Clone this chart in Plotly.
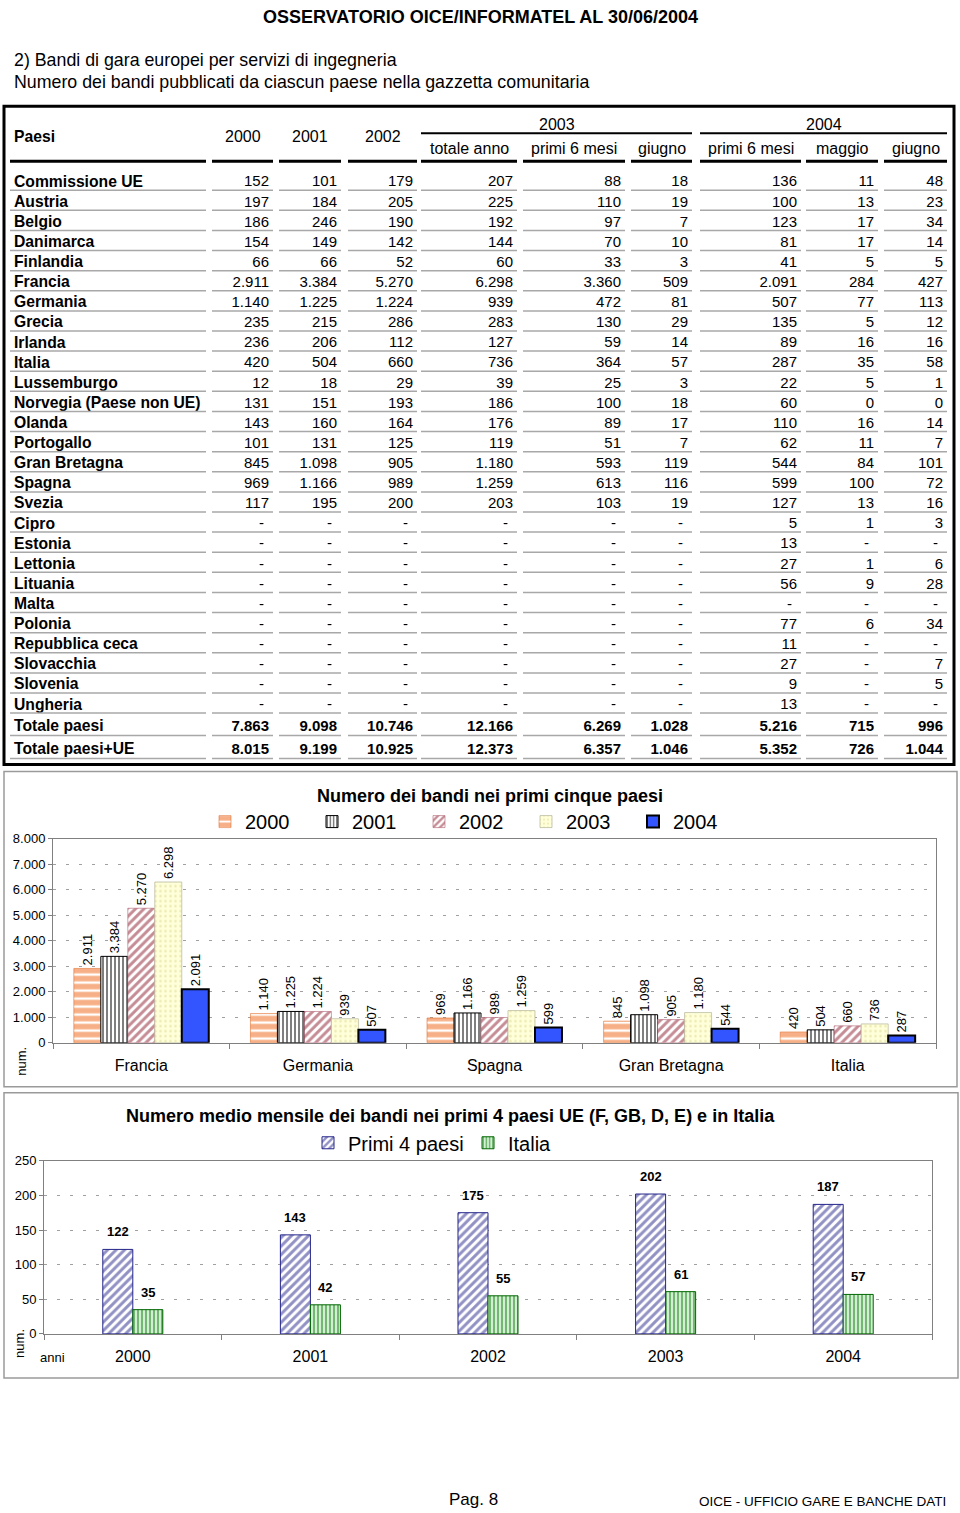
import plotly.graph_objects as go

FONT = "Liberation Sans, Arial, sans-serif"

# ---------------------------------------------------------------------------
# Tabella: bandi per paese
# ---------------------------------------------------------------------------
PAESI = [
    "Commissione UE", "Austria", "Belgio", "Danimarca", "Finlandia", "Francia",
    "Germania", "Grecia", "Irlanda", "Italia", "Lussemburgo",
    "Norvegia (Paese non UE)", "Olanda", "Portogallo", "Gran Bretagna", "Spagna",
    "Svezia", "Cipro", "Estonia", "Lettonia", "Lituania", "Malta", "Polonia",
    "Repubblica ceca", "Slovacchia", "Slovenia", "Ungheria",
    "Totale paesi", "Totale paesi+UE",
]
_ = None
ANNO_2000 = [152, 197, 186, 154, 66, 2911, 1140, 235, 236, 420, 12, 131, 143, 101, 845, 969, 117,
             _, _, _, _, _, _, _, _, _, _, 7863, 8015]
ANNO_2001 = [101, 184, 246, 149, 66, 3384, 1225, 215, 206, 504, 18, 151, 160, 131, 1098, 1166, 195,
             _, _, _, _, _, _, _, _, _, _, 9098, 9199]
ANNO_2002 = [179, 205, 190, 142, 52, 5270, 1224, 286, 112, 660, 29, 193, 164, 125, 905, 989, 200,
             _, _, _, _, _, _, _, _, _, _, 10746, 10925]
TOT_2003 = [207, 225, 192, 144, 60, 6298, 939, 283, 127, 736, 39, 186, 176, 119, 1180, 1259, 203,
            _, _, _, _, _, _, _, _, _, _, 12166, 12373]
P6_2003 = [88, 110, 97, 70, 33, 3360, 472, 130, 59, 364, 25, 100, 89, 51, 593, 613, 103,
           _, _, _, _, _, _, _, _, _, _, 6269, 6357]
GIU_2003 = [18, 19, 7, 10, 3, 509, 81, 29, 14, 57, 3, 18, 17, 7, 119, 116, 19,
            _, _, _, _, _, _, _, _, _, _, 1028, 1046]
P6_2004 = [136, 100, 123, 81, 41, 2091, 507, 135, 89, 287, 22, 60, 110, 62, 544, 599, 127,
           5, 13, 27, 56, _, 77, 11, 27, 9, 13, 5216, 5352]
MAG_2004 = [11, 13, 17, 17, 5, 284, 77, 5, 16, 35, 5, 0, 16, 11, 84, 100, 13,
            1, _, 1, 9, _, 6, _, _, _, _, 715, 726]
GIU_2004 = [48, 23, 34, 14, 5, 427, 113, 12, 16, 58, 1, 0, 14, 7, 101, 72, 16,
            3, _, 6, 28, _, 34, _, 7, 5, _, 996, 1044]
COLONNE = [ANNO_2000, ANNO_2001, ANNO_2002, TOT_2003, P6_2003, GIU_2003, P6_2004, MAG_2004, GIU_2004]
INTESTAZIONI = ["2000", "2001", "2002", "totale anno", "primi 6 mesi", "giugno",
                "primi 6 mesi", "maggio", "giugno"]

# ---------------------------------------------------------------------------
# Grafico 1: primi cinque paesi
# ---------------------------------------------------------------------------
PRIMI5 = ["Francia", "Germania", "Spagna", "Gran Bretagna", "Italia"]
BANDI_2000 = [2911, 1140, 969, 845, 420]
BANDI_2001 = [3384, 1225, 1166, 1098, 504]
BANDI_2002 = [5270, 1224, 989, 905, 660]
BANDI_2003 = [6298, 939, 1259, 1180, 736]
BANDI_2004 = [2091, 507, 599, 544, 287]

# ---------------------------------------------------------------------------
# Grafico 2: media mensile
# ---------------------------------------------------------------------------
ANNI = ["2000", "2001", "2002", "2003", "2004"]
MEDIA_PRIMI4 = [122, 143, 175, 202, 187]
MEDIA_ITALIA = [35, 42, 55, 61, 57]

W, H = 960, 1513
# measured: the rendered page shows figure pixel f at y = TOP + SCALE * f
TOP, SCALE = 7.9, 0.9895
TEXT_DY = 2.5  # scatter text sits a little high with "middle"


def fy(py):
    # page pixel (from top) -> paper fraction
    return 1 - (py - TOP) / (SCALE * H)


def fmt(v):
    return "-" if v is None else f"{v:,}".replace(",", ".")


# table geometry (page pixels)
LABEL_SEG = (10, 206)
COL_SEG = [(212, 273), (279, 341), (348, 417), (421, 517), (523, 625),
           (631, 692), (700, 801), (806, 878), (884, 947)]
ROW_Y = [181 + 20.1 * i for i in range(27)] + [725, 748]
RULE_Y = [y + 10 for y in ROW_Y[:27]] + [736, 759]
N_TOT = 2
TEXT_Y = [y + TEXT_DY for y in ROW_Y]

fig = go.Figure()

# --- table text (page axis x3/y3 in pixels) ---
bold_rows = set(range(len(PAESI) - N_TOT, len(PAESI)))
fig.add_trace(go.Scatter(
    x=[14] * len(PAESI), y=TEXT_Y, mode="text",
    text=[f"<b>{p}</b>" for p in PAESI],
    textposition="middle right",
    textfont=dict(size=15.7, color="black", family=FONT),
    xaxis="x3", yaxis="y3", hoverinfo="skip", showlegend=False,
))
for col, (l, r) in zip(COLONNE, COL_SEG):
    xs = [r - 4 if v is not None else r - 9 for v in col]
    txt = [f"<b>{fmt(v)}</b>" if i in bold_rows else fmt(v) for i, v in enumerate(col)]
    fig.add_trace(go.Scatter(
        x=xs, y=TEXT_Y, mode="text", text=txt,
        textposition="middle left",
        textfont=dict(size=15, color="black", family=FONT),
        xaxis="x3", yaxis="y3", hoverinfo="skip", showlegend=False,
    ))

# gray rules under each row
rx, ry = [], []
for y in RULE_Y:
    for l, r in [LABEL_SEG] + COL_SEG:
        rx += [l, r, None]
        ry += [y, y, None]
fig.add_trace(go.Scatter(
    x=rx, y=ry, mode="lines", line=dict(color="#A8A8A8", width=1.5),
    xaxis="x3", yaxis="y3", hoverinfo="skip", showlegend=False,
))

shapes = []
for l, r in [LABEL_SEG] + COL_SEG:
    shapes.append(dict(type="line", xref="x3", yref="y3", x0=l, x1=r, y0=162, y1=162,
                       line=dict(color="black", width=3)))
shapes.append(dict(type="line", xref="x3", yref="y3", x0=421, x1=692, y0=134, y1=134,
                   line=dict(color="black", width=2)))
shapes.append(dict(type="line", xref="x3", yref="y3", x0=700, x1=947, y0=134, y1=134,
                   line=dict(color="black", width=2)))
shapes.append(dict(type="rect", xref="x3", yref="y3", x0=4, x1=954, y0=107, y1=765,
                   line=dict(color="black", width=3)))
# chart frames
shapes.append(dict(type="rect", xref="x3", yref="y3", x0=4, x1=957, y0=772, y1=1087,
                   line=dict(color="#9A9A9A", width=1.5)))
shapes.append(dict(type="rect", xref="x3", yref="y3", x0=4, x1=958, y0=1093, y1=1378,
                   line=dict(color="#9A9A9A", width=1.5)))

ann = []


def txt(x, y, s, size=15, bold=False, xanchor="center", angle=0):
    ann.append(dict(xref="x3", yref="y3", x=x, y=y, text=f"<b>{s}</b>" if bold else s,
                    showarrow=False, xanchor=xanchor, yanchor="middle", textangle=angle,
                    font=dict(size=size, color="black", family=FONT)))


txt(480, 18, "OSSERVATORIO OICE/INFORMATEL AL 30/06/2004", size=18, bold=True)
txt(12, 61, "2) Bandi di gara europei per servizi di ingegneria", size=17.8, xanchor="left")
txt(12, 83, "Numero dei bandi pubblicati da ciascun paese nella gazzetta comunitaria", size=17.8,
    xanchor="left")
txt(12, 137, "Paesi", size=15.7, bold=True, xanchor="left")
for (l, r), h in zip(COL_SEG, INTESTAZIONI):
    if h in ("2000", "2001", "2002"):
        txt((l + r) / 2, 137, h, size=16)
    else:
        txt((l + r) / 2, 149, h, size=16)
txt(556.5, 125, "2003", size=16)
txt(823.5, 125, "2004", size=16)

# chart 1 labels
txt(490, 796, "Numero dei bandi nei primi cinque paesi", size=18, bold=True)
txt(22, 1062, "num.", size=13, angle=-90)
# chart 2 labels
txt(450, 1116, "Numero medio mensile dei bandi nei primi 4 paesi UE (F, GB, D, E) e in Italia",
    size=18, bold=True)
txt(20, 1344, "num.", size=13, angle=-90)
txt(52, 1358, "anni", size=13)
# footer
txt(473, 1500, "Pag. 8", size=17)
txt(948, 1502, "OICE - UFFICIO GARE E BANCHE DATI", size=13.5, xanchor="right")

# --- chart 1 bars ---
styles1 = [
    ("2000", BANDI_2000, dict(shape="-", fgcolor="#F0600F", bgcolor="white", size=8, solidity=0.7),
     dict(color="#E07030", width=0.6)),
    ("2001", BANDI_2001, dict(shape="|", fgcolor="black", bgcolor="white", size=4, solidity=0.5),
     dict(color="black", width=1)),
    ("2002", BANDI_2002, dict(shape="/", fgcolor="#8B1A2B", bgcolor="white", size=6, solidity=0.5),
     dict(color="#B06070", width=0.6)),
    ("2003", BANDI_2003, dict(shape=".", fgcolor="#D8D38A", bgcolor="#FFFFDA", size=5, solidity=0.2),
     dict(color="#BDBDA0", width=0.8)),
    ("2004", BANDI_2004, None, dict(color="black", width=2)),
]
for name, vals, pat, ln in styles1:
    marker = dict(color="#3355FF" if pat is None else pat["bgcolor"], line=ln)
    if pat is not None:
        marker["pattern"] = pat
    fig.add_trace(go.Bar(
        x=PRIMI5, y=vals, name=name, marker=marker,
        texttemplate="%{y:,}", textposition="outside", textangle=-90,
        textfont=dict(size=13, color="black", family=FONT), constraintext="none",
        cliponaxis=False, xaxis="x", yaxis="y", legend="legend",
    ))

# --- chart 2 bars ---
BW2 = 0.169
fig.add_trace(go.Bar(
    x=ANNI, y=MEDIA_PRIMI4, name="Primi 4 paesi", width=BW2, offset=-BW2,
    marker=dict(color="white", line=dict(color="#24248A", width=1),
                pattern=dict(shape="/", fgcolor="#24248A", bgcolor="white", size=6, solidity=0.5)),
    xaxis="x2", yaxis="y2", legend="legend2",
))
fig.add_trace(go.Bar(
    x=ANNI, y=MEDIA_ITALIA, name="Italia", width=BW2, offset=0,
    marker=dict(color="#DDF5DD", line=dict(color="#006600", width=1),
                pattern=dict(shape="|", fgcolor="#0A7A0A", bgcolor="#DDF5DD", size=4, solidity=0.55)),
    xaxis="x2", yaxis="y2", legend="legend2",
))
# value labels sit well above the bars
for vals, shift in ((MEDIA_PRIMI4, -BW2 / 2), (MEDIA_ITALIA, BW2 / 2)):
    for i, v in enumerate(vals):
        ann.append(dict(xref="x2", yref="y2", x=i + shift, y=v, text=f"<b>{v}</b>",
                        showarrow=False, xanchor="center", yanchor="bottom", yshift=8,
                        font=dict(size=13, color="black", family=FONT)))

xcommon = dict(type="category", showline=True, linecolor="#808080", linewidth=1, mirror=True,
               ticks="outside", tickson="boundaries", ticklen=5, tickcolor="#808080",
               showgrid=False, zeroline=False, fixedrange=True)
ycommon = dict(showline=True, linecolor="#808080", linewidth=1, mirror=True,
               ticks="outside", ticklen=4, tickcolor="#808080", showgrid=True,
               gridcolor="#A0A0A0", griddash="3px,10px", gridwidth=1,
               zeroline=False, fixedrange=True, tickfont=dict(size=13, color="black"))

fig.update_layout(
    width=W, height=H, margin=dict(l=0, r=0, t=0, b=0),
    paper_bgcolor="white", plot_bgcolor="rgba(0,0,0,0)",
    font=dict(family=FONT, color="black"),
    separators=",.",
    barmode="group", bargap=0.236, bargroupgap=0,
    showlegend=True,
    xaxis=dict(domain=[53 / W, 936 / W], anchor="y", tickfont=dict(size=16, color="black"),
               ticklabelstandoff=8, **xcommon),
    yaxis=dict(domain=[fy(1043), fy(839)], anchor="x", range=[0, 8000], dtick=1000,
               tickformat=",d", **ycommon),
    xaxis2=dict(domain=[44 / W, 932 / W], anchor="y2", tickfont=dict(size=16, color="black"),
                ticklabelstandoff=8, **xcommon),
    yaxis2=dict(domain=[fy(1334), fy(1161)], anchor="x2", range=[0, 250], dtick=50, **ycommon),
    xaxis3=dict(domain=[0, 1], range=[0, W], visible=False, fixedrange=True, anchor="y3"),
    yaxis3=dict(domain=[0, 1], range=[TOP + SCALE * H, TOP], visible=False, fixedrange=True,
                anchor="x3"),
    legend=dict(orientation="h", x=205 / W, y=fy(822), xanchor="left", yanchor="middle",
                font=dict(size=20, color="black"), entrywidth=62, entrywidthmode="pixels",
                bgcolor="rgba(0,0,0,0)", traceorder="normal"),
    legend2=dict(orientation="h", x=308 / W, y=fy(1143), xanchor="left", yanchor="middle",
                 font=dict(size=20, color="black"), entrywidth=115, entrywidthmode="pixels",
                 bgcolor="rgba(0,0,0,0)", traceorder="normal"),
    shapes=shapes,
    annotations=ann,
)

# the page body has a default 8px margin: drop it so the figure fills the width
fig.write_html("out.html", config={"displayModeBar": False},
               post_script="document.body.style.margin='0';")
